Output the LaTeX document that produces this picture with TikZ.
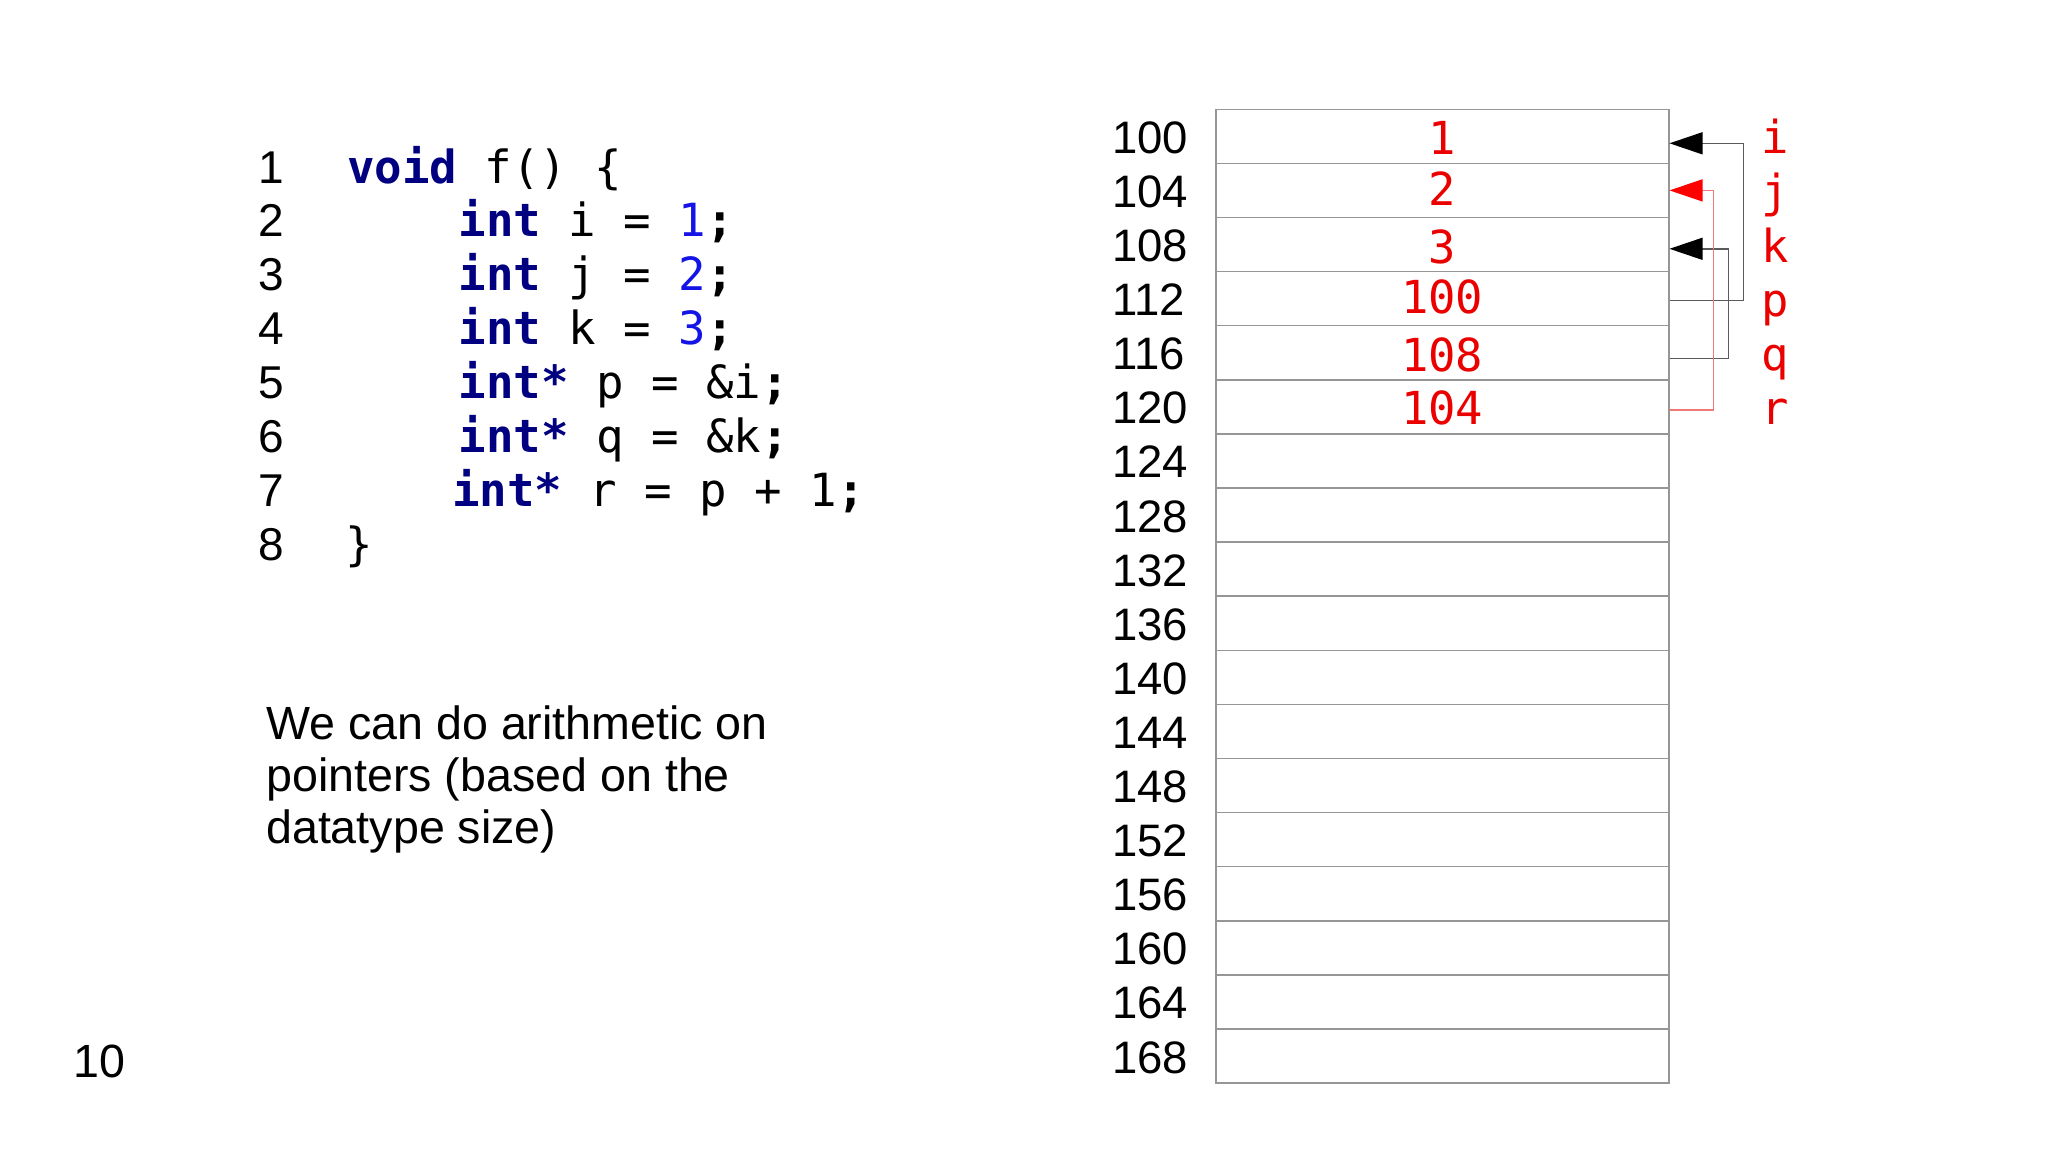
\documentclass[tikz,border=0pt]{standalone}
\usepackage{fontspec}
\setmainfont{Liberation Sans}
\newfontfamily\codefont{DejaVu Sans Mono}
\usetikzlibrary{arrows.meta,calc}
\definecolor{kwnavy}{RGB}{0,0,128}
\definecolor{numblue}{RGB}{20,20,230}
\definecolor{memred}{RGB}{235,0,0}
\definecolor{gridgray}{RGB}{150,150,150}
\definecolor{linkgray}{RGB}{90,90,90}
\definecolor{linkred}{RGB}{240,120,120}
\newcommand{\kwd}[1]{\textcolor{kwnavy}{\bfseries #1}}
\newcommand{\numb}[1]{\textcolor{numblue}{#1}}
\newcommand{\semi}{\textbf{;}}
\frenchspacing
\begin{document}
\begin{tikzpicture}[x=1pt,y=-1pt,
  sanstext/.style={font=\fontsize{46.6}{54}\selectfont, inner sep=0pt, anchor=base west},
  addrlabel/.style={font=\fontsize{45.5}{54}\selectfont, inner sep=0pt, anchor=base west},
  codeline/.style={font=\codefont\fontsize{45.7}{54}\selectfont, inner sep=0pt, anchor=base west},
  memval/.style={font=\codefont\fontsize{45.5}{54}\selectfont, text=memred, inner sep=0pt, anchor=base},
  varname/.style={font=\codefont\fontsize{45.5}{54}\selectfont, text=memred, inner sep=0pt, anchor=base},
  cell/.style={draw=gridgray, line width=1.5pt, minimum width=453pt, minimum height=54.1pt, inner sep=0pt, anchor=north west},
  blackptr/.style={draw=linkgray, line width=1.4pt, -{Triangle[length=33pt,width=22pt,color=black]}},
  redptr/.style={draw=linkred, line width=1.4pt, -{Triangle[length=33pt,width=22pt,color=red]}}
]
\useasboundingbox (0,0) rectangle (2048,1152);

% line numbers
\foreach \k in {1,...,8} {
  \node[sanstext, font=\fontsize{46}{54}\selectfont] (n\k) at (258, {183+53.9*(\k-1)}) {\k};
}
% code
\node[codeline] (l1) at (347, 183) {\kwd{void} f() \{};
\node[codeline] (l2) at (458.5, 236.9) {\kwd{int} i = \numb{1}\semi};
\node[codeline] (l3) at (458.5, 290.8) {\kwd{int} j = \numb{2}\semi};
\node[codeline] (l4) at (458.5, 344.7) {\kwd{int} k = \numb{3}\semi};
\node[codeline] (l5) at (458.5, 398.6) {\kwd{int*} p = \&i\semi};
\node[codeline] (l6) at (458.5, 452.5) {\kwd{int*} q = \&k\semi};
\node[codeline] (l7) at (452, 506.4) {\kwd{int*} r = p + 1\semi};
\node[codeline] (l8) at (345, 560.3) {\}};

% explanation
\node[sanstext] (t1) at (266, 739) {We can do arithmetic on};
\node[sanstext] (t2) at (266, 791) {pointers (based on the};
\node[sanstext] (t3) at (266, 843) {datatype size)};

% page number
\node[sanstext] (pg) at (73, 1077) {10};

% memory cells
\foreach \i in {0,...,17} {
  \node[cell] (c\i) at (1215, {108.5+\i*54.1}) {};
  \pgfmathtruncatemacro{\addr}{100+4*\i}
  \node[addrlabel] (a\i) at ($(c\i.west)+(-103,17)$) {\addr};
}

% values
\foreach \i/\v/\dy in {0/1/18.6,1/2/14.7,2/3/18.8,3/100/15.2,4/108/18.7,5/104/18} {
  \node[memval] (v\i) at ($(c\i.center)+(0,\dy)$) {\v};
}

% variable names
\foreach \i/\n in {0/i,1/j,2/k,3/p,4/q,5/r} {
  \node[varname] (x\i) at ($(c\i.east)+(106,17.5)$) {\n};
}

% pointers
\draw[blackptr] ($(c3.east)+(0,2)$) -- ++(74,0) |- ($(c0.east)+(0,7)$);
\draw[blackptr] ($(c4.east)+(0,5.5)$) -- ++(59,0) |- ($(c2.east)+(0,4.3)$);
\draw[redptr] ($(c5.east)+(0,3.2)$) -- ++(44,0) |- ($(c1.east)+(0,0)$);
\end{tikzpicture}
\end{document}
